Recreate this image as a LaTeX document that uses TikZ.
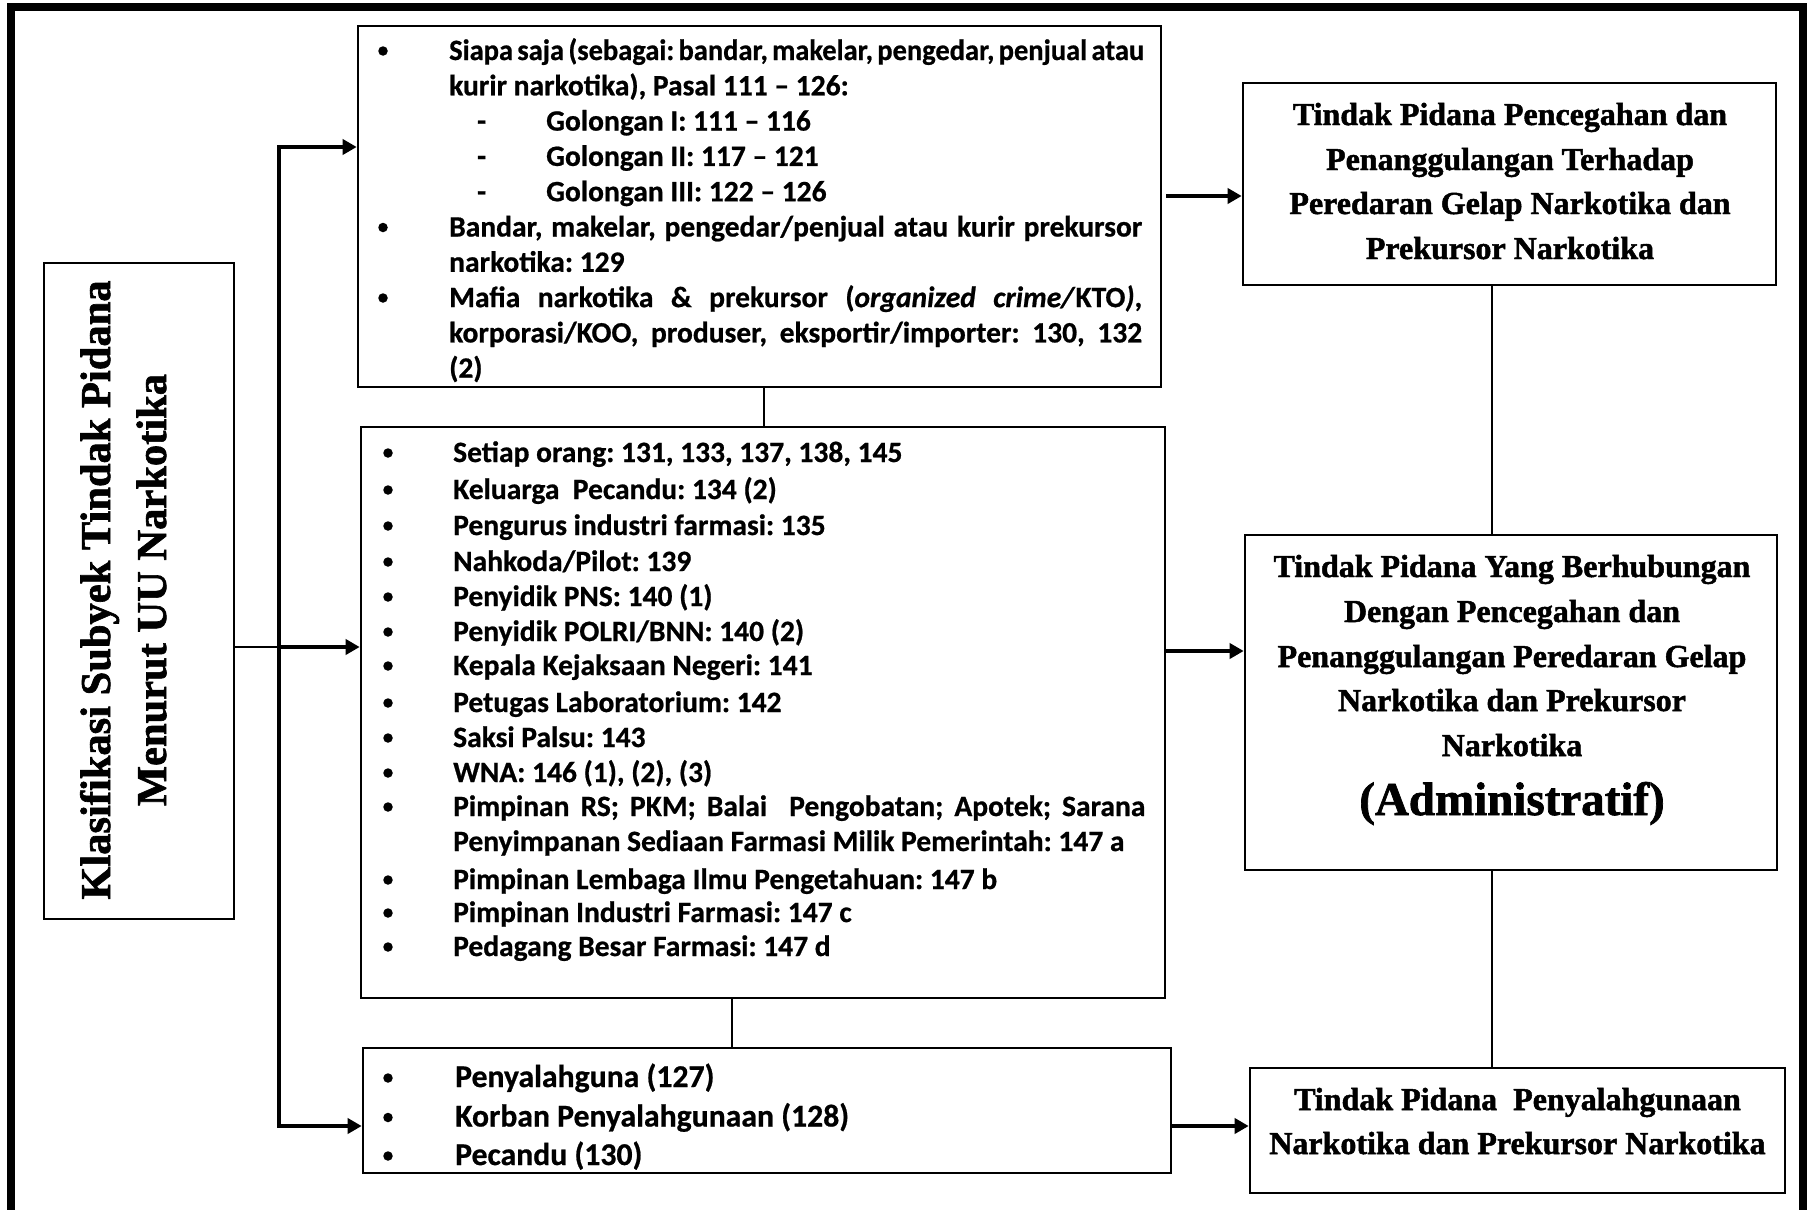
\documentclass[tikz,border=0pt]{standalone}
\usepackage{fontspec}
\usepackage{graphicx}
\usetikzlibrary{arrows.meta}
\newfontfamily\calfont[BoldFeatures={FakeBold=0.7},BoldItalicFeatures={FakeBold=0.7}]{Carlito}
\newfontfamily\tnrfont[BoldFeatures={FakeBold=1.5}]{Liberation Serif}
\newcommand\fcal{\calfont\bfseries\fontsize{29.5}{35}\selectfont}
\newcommand\fcalb{\calfont\bfseries\fontsize{31.7}{38}\selectfont}
\newcommand\ftnr{\tnrfont\bfseries\fontsize{32}{44}\selectfont}
\newcommand\fadm{\tnrfont\bfseries\fontsize{47}{50}\selectfont}
\newcommand\fleft{\tnrfont\bfseries\fontsize{42.5}{56}\selectfont}
\frenchspacing
\begin{document}
\begin{tikzpicture}[x=1pt,y=-1pt,
  box/.style={draw, line width=2.6pt, inner sep=0pt},
  frameline/.style={line width=8pt},
  conn/.style={line width=2pt},
  tip/.tip={Triangle[length=14pt,width=15pt]},
  arr/.style={line width=4.5pt, -tip},
  ltx/.style={inner sep=0pt, anchor=base west, font=\fcal},
  ltxb/.style={inner sep=0pt, anchor=base west, font=\fcalb},
  rtx/.style={inner sep=0pt, anchor=base, font=\ftnr},
  vtx/.style={inner sep=0pt, anchor=base, rotate=90, font=\fleft},
  dot/.style={circle, fill, inner sep=0pt, minimum size=9.5pt},
]
\useasboundingbox (0,0) rectangle (1810,1210);
\fill[white] (0,0) rectangle (1810,1210);
\draw[frameline] (11,1210) -- (11,6.5) -- (1802.5,6.5) -- (1802.5,1210);

% boxes
\node[box, minimum width=190pt, minimum height=656pt] (lb) at (139,591) {};
\node[box, minimum width=803pt, minimum height=361pt] (b1) at (759.5,206.5) {};
\node[box, minimum width=804pt, minimum height=571pt] (b2) at (763,712.5) {};
\node[box, minimum width=808pt, minimum height=125pt] (b3) at (767,1110.5) {};
\node[box, minimum width=533pt, minimum height=202pt] (r1) at (1509.5,184) {};
\node[box, minimum width=532pt, minimum height=335pt] (r2) at (1511,702.5) {};
\node[box, minimum width=535pt, minimum height=125pt] (r3) at (1517.5,1130.5) {};

% left box text
\node[vtx] (lt1) at (110,590) {Klasifikasi Subyek Tindak Pidana};
\node[vtx] (lt2) at (166,590) {Menurut UU Narkotika};

% top list box
\node[dot] (b1d1) at (383,51) {};
\node[dot] (b1d2) at (383,227.5) {};
\node[dot] (b1d3) at (383,298) {};
\node[ltx] (b1l1) at (449,60) {\scalebox{0.965}[1]{\makebox[718pt][s]{Siapa saja (sebagai: bandar, makelar, pengedar, penjual atau}}};
\node[ltx] (b1l2) at (449,95.3) {kurir narkotika), Pasal 111 – 126:};
\node[ltx] (b1h1) at (477,130.6) {-};
\node[ltx] (b1l3) at (546,130.6) {Golongan I: 111 – 116};
\node[ltx] (b1h2) at (477,165.9) {-};
\node[ltx] (b1l4) at (546,165.9) {Golongan II: 117 – 121};
\node[ltx] (b1h3) at (477,201.2) {-};
\node[ltx] (b1l5) at (546,201.2) {Golongan III: 122 – 126};
\node[ltx] (b1l6) at (449,236.5) {\makebox[693pt][s]{Bandar, makelar, pengedar/penjual atau kurir prekursor}};
\node[ltx] (b1l7) at (449,271.8) {narkotika: 129};
\node[ltx] (b1l8) at (449,307.1) {\makebox[693pt][s]{Mafia narkotika \& prekursor (\textit{organized crime/}KTO\textit{)},}};
\node[ltx] (b1l9) at (449,342.4) {\makebox[693pt][s]{korporasi/KOO, produser, eksportir/importer: 130, 132}};
\node[ltx] (b1l10) at (449,377.7) {(2)};

% middle list box
\foreach \yy/\nm in {462/1,499/2,535/3,571/4,606/5,641/6,675/7,712/8,747/9,782/10,816/11,889/13,922/14,956/15}
  \node[dot] (b2d\nm) at (388,\yy-9) {};
\node[ltx] (b2l1) at (453,462) {Setiap orang: 131, 133, 137, 138, 145};
\node[ltx] (b2l2) at (453,499) {Keluarga\ \ Pecandu: 134 (2)};
\node[ltx] (b2l3) at (453,535) {Pengurus industri farmasi: 135};
\node[ltx] (b2l4) at (453,571) {Nahkoda/Pilot: 139};
\node[ltx] (b2l5) at (453,606) {Penyidik PNS: 140 (1)};
\node[ltx] (b2l6) at (453,641) {Penyidik POLRI/BNN: 140 (2)};
\node[ltx] (b2l7) at (453,675) {Kepala Kejaksaan Negeri: 141};
\node[ltx] (b2l8) at (453,712) {Petugas Laboratorium: 142};
\node[ltx] (b2l9) at (453,747) {Saksi Palsu: 143};
\node[ltx] (b2l10) at (453,782) {WNA: 146 (1), (2), (3)};
\node[ltx] (b2l11) at (453,816) {\makebox[692pt][s]{Pimpinan RS; PKM; Balai\ \ Pengobatan; Apotek; Sarana}};
\node[ltx] (b2l12) at (453,851) {Penyimpanan Sediaan Farmasi Milik Pemerintah: 147 a};
\node[ltx] (b2l13) at (453,889) {Pimpinan Lembaga Ilmu Pengetahuan: 147 b};
\node[ltx] (b2l14) at (453,922) {Pimpinan Industri Farmasi: 147 c};
\node[ltx] (b2l15) at (453,956) {Pedagang Besar Farmasi: 147 d};

% bottom list box
\node[dot] (b3d1) at (388,1078) {};
\node[dot] (b3d2) at (388,1117.5) {};
\node[dot] (b3d3) at (388,1156) {};
\node[ltxb] (b3l1) at (455,1087) {Penyalahguna (127)};
\node[ltxb] (b3l2) at (455,1126.5) {Korban Penyalahgunaan (128)};
\node[ltxb] (b3l3) at (455,1165) {Pecandu (130)};

% right boxes text
\node[rtx] (r1l1) at (1510,125) {Tindak Pidana Pencegahan dan};
\node[rtx] (r1l2) at (1510,170) {Penanggulangan Terhadap};
\node[rtx] (r1l3) at (1510,214) {Peredaran Gelap Narkotika dan};
\node[rtx] (r1l4) at (1510,259) {Prekursor Narkotika};

\node[rtx] (r2l1) at (1512,577) {Tindak Pidana Yang Berhubungan};
\node[rtx] (r2l2) at (1512,622) {Dengan Pencegahan dan};
\node[rtx] (r2l3) at (1512,667) {Penanggulangan Peredaran Gelap};
\node[rtx] (r2l4) at (1512,711) {Narkotika dan Prekursor};
\node[rtx] (r2l5) at (1512,756) {Narkotika};
\node[rtx, font=\fadm] (r2l6) at (1512,815) {(Administratif)};

\node[rtx] (r3l1) at (1517.5,1110) {Tindak Pidana\ \ Penyalahgunaan};
\node[rtx] (r3l2) at (1517.5,1154) {Narkotika dan Prekursor Narkotika};

% connectors
\coordinate (tt) at (279,147);
\coordinate (tb) at (279,1126);
\coordinate (tm) at (279,647);
\draw[line width=4.3pt, tip-tip] (tt -| b1.west) -- (tt) -- (tb) -- (tb -| b3.west);
\draw[line width=2.6pt] (tm -| lb.east) -- (tm);
\draw[arr] (tm) -- (tm -| b2.west);

\coordinate (a1) at (0,196);
\coordinate (a2) at (0,651);
\coordinate (a3) at (0,1126);
\draw[arr, shorten <=4pt] (a1 -| b1.east) -- (a1 -| r1.west);
\draw[arr] (a2 -| b2.east) -- (a2 -| r2.west);
\draw[arr] (a3 -| b3.east) -- (a3 -| r3.west);

\coordinate (v1) at (764,0);
\coordinate (v2) at (732,0);
\coordinate (v3) at (1492,0);
\draw[conn] (v1 |- b1.south) -- (v1 |- b2.north);
\draw[conn] (v2 |- b2.south) -- (v2 |- b3.north);
\draw[conn] (v3 |- r1.south) -- (v3 |- r2.north);
\draw[conn] (v3 |- r2.south) -- (v3 |- r3.north);
\end{tikzpicture}
\end{document}
